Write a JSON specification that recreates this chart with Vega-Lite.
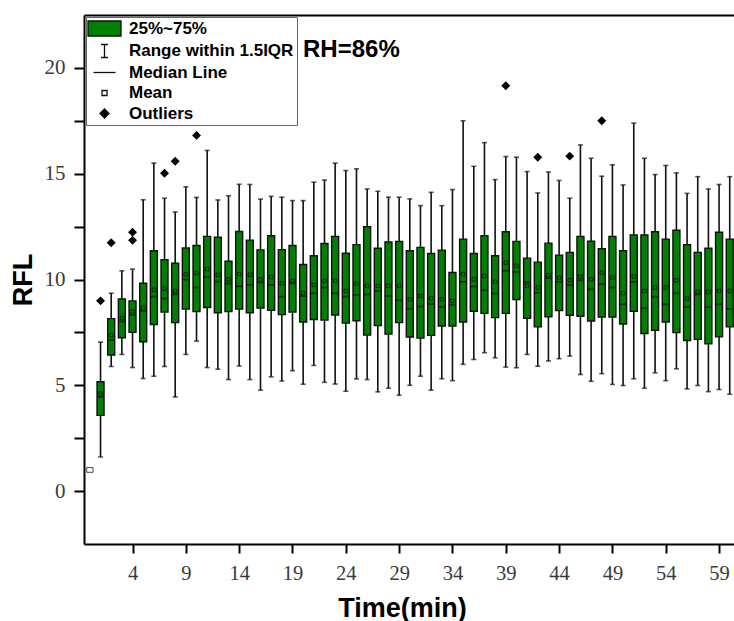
{
  "$schema": "https://vega.github.io/schema/vega-lite/v6.json",
  "width": 650,
  "height": 529,
  "autosize": {"type": "none"},
  "padding": {"left": 84, "top": 15, "right": 0, "bottom": 77},
  "background": "white",
  "config": {"view": {"stroke": null}, "font": "Liberation Sans"},
  "title": {"text": "RH=86%", "anchor": "start", "frame": "group", "orient": "top", "offset": 0, "dx": 219, "dy": 66, "baseline": "alphabetic", "fontSize": 24, "fontWeight": "bold", "font": "Liberation Sans", "color": "black"},
  "datasets": {
    "boxes": [
      {"t": 1, "lo": 1.61, "q1": 3.58, "med": 4.45, "mean": 4.61, "q3": 5.17, "hi": 7.04},
      {"t": 2, "lo": 5.89, "q1": 6.43, "med": 7.14, "mean": 7.36, "q3": 8.15, "hi": 9.35},
      {"t": 3, "lo": 6.46, "q1": 7.25, "med": 8.02, "mean": 8.18, "q3": 9.08, "hi": 10.41},
      {"t": 4, "lo": 5.84, "q1": 7.5, "med": 8.32, "mean": 8.48, "q3": 8.99, "hi": 10.49},
      {"t": 5, "lo": 5.32, "q1": 7.06, "med": 8.51, "mean": 8.67, "q3": 9.82, "hi": 13.77},
      {"t": 6, "lo": 5.43, "q1": 7.87, "med": 9.19, "mean": 9.51, "q3": 11.36, "hi": 15.5},
      {"t": 7, "lo": 5.89, "q1": 8.46, "med": 9.1, "mean": 9.57, "q3": 10.93, "hi": 13.84},
      {"t": 8, "lo": 4.45, "q1": 7.96, "med": 9.3, "mean": 9.46, "q3": 10.77, "hi": 13.19},
      {"t": 9, "lo": 6.46, "q1": 8.6, "med": 10.0, "mean": 10.24, "q3": 11.49, "hi": 14.38},
      {"t": 10, "lo": 7.09, "q1": 8.48, "med": 9.62, "mean": 10.3, "q3": 11.61, "hi": 13.88},
      {"t": 11, "lo": 5.84, "q1": 8.68, "med": 10.12, "mean": 10.49, "q3": 12.04, "hi": 16.1},
      {"t": 12, "lo": 5.76, "q1": 8.43, "med": 9.9, "mean": 10.22, "q3": 12.0, "hi": 13.76},
      {"t": 13, "lo": 5.27, "q1": 8.48, "med": 9.81, "mean": 10.0, "q3": 10.86, "hi": 13.96},
      {"t": 14, "lo": 5.91, "q1": 8.6, "med": 9.68, "mean": 10.26, "q3": 12.27, "hi": 14.5},
      {"t": 15, "lo": 5.27, "q1": 8.43, "med": 9.75, "mean": 10.22, "q3": 11.86, "hi": 14.49},
      {"t": 16, "lo": 4.77, "q1": 8.65, "med": 9.86, "mean": 10.0, "q3": 11.4, "hi": 13.8},
      {"t": 17, "lo": 5.4, "q1": 8.54, "med": 9.75, "mean": 10.12, "q3": 12.07, "hi": 13.93},
      {"t": 18, "lo": 5.2, "q1": 8.34, "med": 9.19, "mean": 9.82, "q3": 11.41, "hi": 13.89},
      {"t": 19, "lo": 5.69, "q1": 8.46, "med": 9.82, "mean": 9.93, "q3": 11.61, "hi": 13.73},
      {"t": 20, "lo": 5.05, "q1": 7.99, "med": 9.22, "mean": 9.35, "q3": 10.71, "hi": 13.73},
      {"t": 21, "lo": 5.94, "q1": 8.11, "med": 9.35, "mean": 9.74, "q3": 11.12, "hi": 14.6},
      {"t": 22, "lo": 5.14, "q1": 8.08, "med": 9.62, "mean": 9.93, "q3": 11.7, "hi": 14.7},
      {"t": 23, "lo": 5.06, "q1": 8.32, "med": 9.35, "mean": 9.93, "q3": 12.04, "hi": 15.5},
      {"t": 24, "lo": 4.72, "q1": 7.94, "med": 9.19, "mean": 9.46, "q3": 11.24, "hi": 15.15},
      {"t": 25, "lo": 5.3, "q1": 8.05, "med": 9.27, "mean": 9.81, "q3": 11.65, "hi": 15.23},
      {"t": 26, "lo": 5.27, "q1": 7.37, "med": 9.3, "mean": 9.7, "q3": 12.49, "hi": 14.28},
      {"t": 27, "lo": 4.69, "q1": 7.82, "med": 9.46, "mean": 9.7, "q3": 11.48, "hi": 14.17},
      {"t": 28, "lo": 4.86, "q1": 7.42, "med": 9.22, "mean": 9.7, "q3": 11.77, "hi": 13.89},
      {"t": 29, "lo": 4.53, "q1": 7.96, "med": 9.02, "mean": 9.7, "q3": 11.8, "hi": 13.89},
      {"t": 30, "lo": 5.0, "q1": 7.28, "med": 8.62, "mean": 9.06, "q3": 11.36, "hi": 13.81},
      {"t": 31, "lo": 5.43, "q1": 7.23, "med": 8.72, "mean": 9.22, "q3": 11.52, "hi": 13.49},
      {"t": 32, "lo": 4.77, "q1": 7.36, "med": 8.84, "mean": 9.11, "q3": 11.23, "hi": 14.12},
      {"t": 33, "lo": 5.31, "q1": 7.8, "med": 8.7, "mean": 9.06, "q3": 11.39, "hi": 13.49},
      {"t": 34, "lo": 5.22, "q1": 7.8, "med": 8.8, "mean": 8.99, "q3": 10.33, "hi": 14.25},
      {"t": 35, "lo": 5.99, "q1": 7.99, "med": 9.89, "mean": 10.25, "q3": 11.91, "hi": 17.5},
      {"t": 36, "lo": 6.22, "q1": 8.5, "med": 9.67, "mean": 10.01, "q3": 11.23, "hi": 15.35},
      {"t": 37, "lo": 6.54, "q1": 8.4, "med": 9.49, "mean": 10.17, "q3": 12.07, "hi": 16.47},
      {"t": 38, "lo": 6.3, "q1": 8.2, "med": 9.34, "mean": 9.89, "q3": 11.12, "hi": 14.72},
      {"t": 39, "lo": 5.86, "q1": 8.4, "med": 10.41, "mean": 10.8, "q3": 12.26, "hi": 15.81},
      {"t": 40, "lo": 5.83, "q1": 9.05, "med": 10.36, "mean": 10.65, "q3": 11.8, "hi": 15.78},
      {"t": 41, "lo": 6.46, "q1": 8.17, "med": 9.87, "mean": 9.7, "q3": 11.01, "hi": 15.1},
      {"t": 42, "lo": 5.9, "q1": 7.76, "med": 9.38, "mean": 9.62, "q3": 10.82, "hi": 14.09},
      {"t": 43, "lo": 6.15, "q1": 8.24, "med": 10.06, "mean": 10.2, "q3": 11.72, "hi": 15.08},
      {"t": 44, "lo": 6.26, "q1": 8.53, "med": 9.89, "mean": 10.09, "q3": 11.15, "hi": 14.68},
      {"t": 45, "lo": 6.38, "q1": 8.31, "med": 9.74, "mean": 9.96, "q3": 11.28, "hi": 13.84},
      {"t": 46, "lo": 5.51, "q1": 8.26, "med": 9.96, "mean": 10.14, "q3": 12.03, "hi": 16.36},
      {"t": 47, "lo": 5.19, "q1": 8.04, "med": 9.54, "mean": 10.01, "q3": 11.81, "hi": 15.73},
      {"t": 48, "lo": 5.55, "q1": 8.23, "med": 9.78, "mean": 10.33, "q3": 11.45, "hi": 14.88},
      {"t": 49, "lo": 5.04, "q1": 8.23, "med": 9.62, "mean": 10.09, "q3": 12.03, "hi": 15.42},
      {"t": 50, "lo": 4.99, "q1": 7.9, "med": 8.83, "mean": 9.35, "q3": 11.36, "hi": 14.47},
      {"t": 51, "lo": 5.31, "q1": 8.5, "med": 9.89, "mean": 10.14, "q3": 12.1, "hi": 17.39},
      {"t": 52, "lo": 4.86, "q1": 7.45, "med": 8.64, "mean": 9.46, "q3": 12.1, "hi": 15.73},
      {"t": 53, "lo": 5.59, "q1": 7.6, "med": 9.18, "mean": 9.62, "q3": 12.26, "hi": 14.96},
      {"t": 54, "lo": 5.22, "q1": 7.99, "med": 8.83, "mean": 9.62, "q3": 11.91, "hi": 15.39},
      {"t": 55, "lo": 5.78, "q1": 7.49, "med": 9.35, "mean": 9.96, "q3": 12.33, "hi": 15.04},
      {"t": 56, "lo": 4.83, "q1": 7.12, "med": 8.7, "mean": 9.1, "q3": 11.64, "hi": 14.07},
      {"t": 57, "lo": 4.99, "q1": 7.17, "med": 9.3, "mean": 9.41, "q3": 11.28, "hi": 14.86},
      {"t": 58, "lo": 4.7, "q1": 6.96, "med": 8.7, "mean": 9.41, "q3": 11.48, "hi": 14.28},
      {"t": 59, "lo": 4.8, "q1": 7.29, "med": 8.83, "mean": 9.46, "q3": 12.23, "hi": 14.49},
      {"t": 60, "lo": 4.58, "q1": 7.76, "med": 8.61, "mean": 9.46, "q3": 11.91, "hi": 14.86}
    ],
    "outliers": [
      {"t": 1, "v": 8.99},
      {"t": 2, "v": 11.74},
      {"t": 4, "v": 12.23},
      {"t": 4, "v": 11.85},
      {"t": 7, "v": 15.02},
      {"t": 8, "v": 15.59},
      {"t": 10, "v": 16.81},
      {"t": 39, "v": 19.16},
      {"t": 42, "v": 15.78},
      {"t": 45, "v": 15.83},
      {"t": 48, "v": 17.5}
    ],
    "extra": [{"t": 0, "mean": 1.0}],
    "legenditems": [
      {"item": "25%~75%"},
      {"item": "Range within 1.5IQR"},
      {"item": "Median Line"},
      {"item": "Mean"},
      {"item": "Outliers"}
    ]
  },
  "layer": [
    {
      "data": {"name": "boxes"},
      "mark": {"type": "rule", "stroke": "#111111", "strokeWidth": 1.6},
      "encoding": {
        "x": {
          "field": "t", "type": "quantitative",
          "scale": {"domain": [-0.55, 60.4], "nice": false, "zero": false, "padding": 0},
          "axis": {
            "orient": "bottom", "values": [4, 9, 14, 19, 24, 29, 34, 39, 44, 49, 54, 59],
            "grid": false, "domainColor": "black", "domainWidth": 2,
            "tickColor": "black", "tickWidth": 2, "tickSize": 9,
            "labelFont": "Liberation Serif", "labelFontSize": 20.5, "labelColor": "#3a3a3a",
            "labelPadding": 10, "labelFlush": false, "labelOverlap": false,
            "title": "Time(min)", "titleFont": "Liberation Sans", "titleFontSize": 27, "titleFontWeight": "bold",
            "titleColor": "black", "titleX": 318, "titleY": 72, "titleBaseline": "alphabetic", "titleAlign": "center"
          }
        },
        "y": {
          "field": "lo", "type": "quantitative",
          "scale": {"domain": [-2.5, 22.5], "nice": false, "zero": false, "padding": 0},
          "axis": {
            "orient": "left", "values": [0, 2.5, 5, 7.5, 10, 12.5, 15, 17.5, 20],
            "labelExpr": "datum.value % 5 === 0 ? datum.label : ''",
            "grid": false, "domainColor": "black", "domainWidth": 2,
            "tickColor": "black", "tickWidth": 2, "tickSize": 10,
            "labelFont": "Liberation Serif", "labelFontSize": 21, "labelColor": "#3a3a3a",
            "labelPadding": 9, "labelFlush": false, "labelOverlap": false,
            "title": "RFL", "titleFont": "Liberation Sans", "titleFontSize": 27, "titleFontWeight": "bold",
            "titleColor": "black", "titleX": -53, "titleY": 264.5, "titleBaseline": "alphabetic", "titleAlign": "center", "titleAngle": -90
          }
        },
        "y2": {"field": "hi"}
      }
    },
    {
      "data": {"name": "boxes"},
      "mark": {"type": "tick", "orient": "horizontal", "size": 5, "thickness": 1.6, "color": "#111111"},
      "encoding": {
        "x": {"field": "t", "type": "quantitative", "axis": null},
        "y": {"field": "hi", "type": "quantitative", "axis": null}
      }
    },
    {
      "data": {"name": "boxes"},
      "mark": {"type": "tick", "orient": "horizontal", "size": 5, "thickness": 1.6, "color": "#111111"},
      "encoding": {
        "x": {"field": "t", "type": "quantitative", "axis": null},
        "y": {"field": "lo", "type": "quantitative", "axis": null}
      }
    },
    {
      "data": {"name": "boxes"},
      "mark": {"type": "bar", "width": 7, "fill": "#008000", "stroke": "#111111", "strokeWidth": 1.4},
      "encoding": {
        "x": {"field": "t", "type": "quantitative", "axis": null},
        "y": {"field": "q1", "type": "quantitative", "axis": null},
        "y2": {"field": "q3"}
      }
    },
    {
      "data": {"name": "boxes"},
      "mark": {"type": "tick", "orient": "horizontal", "size": 7, "thickness": 1.8, "color": "#111111"},
      "encoding": {
        "x": {
          "field": "t", "type": "quantitative",
          "axis": {"orient": "top", "domain": true, "domainColor": "black", "domainWidth": 2, "ticks": false, "labels": false, "grid": false, "title": null}
        },
        "y": {"field": "med", "type": "quantitative", "axis": null}
      }
    },
    {
      "data": {"name": "boxes"},
      "mark": {"type": "point", "shape": "square", "size": 12, "filled": false, "stroke": "#111111", "strokeWidth": 0.8, "opacity": 1},
      "encoding": {
        "x": {"field": "t", "type": "quantitative", "axis": null},
        "y": {"field": "mean", "type": "quantitative", "axis": null}
      }
    },
    {
      "data": {"name": "outliers"},
      "mark": {"type": "point", "shape": "diamond", "size": 80, "filled": true, "color": "black", "opacity": 1},
      "encoding": {
        "x": {"field": "t", "type": "quantitative", "axis": null},
        "y": {"field": "v", "type": "quantitative", "axis": null}
      }
    },
    {
      "data": {"name": "extra"},
      "mark": {"type": "point", "shape": "M-1,-0.75H1V0.75H-1Z", "size": 40, "filled": false, "fill": "white", "stroke": "#444444", "strokeWidth": 1, "opacity": 1},
      "encoding": {
        "x": {"field": "t", "type": "quantitative", "axis": null},
        "y": {"field": "mean", "type": "quantitative", "axis": null}
      }
    },
    {
      "data": {"name": "legenditems"},
      "mark": {"type": "point", "filled": false, "opacity": 0},
      "encoding": {
        "shape": {
          "field": "item", "type": "nominal",
          "scale": {
            "domain": ["25%~75%", "Range within 1.5IQR", "Median Line", "Mean", "Outliers"],
            "range": [
              "M-3.3,-1.5H3.3V1.5H-3.3Z",
              "M-0.7,-1.3H0.7M0,-1.3V1.3M-0.7,1.3H0.7",
              "M-2.2,0H2.2",
              "M-0.5,-0.5H0.5V0.5H-0.5Z",
              "M-0.9,0L0,-0.9L0.9,0L0,0.9Z"
            ]
          },
          "legend": {
            "title": null, "orient": "top-left", "offset": 2, "padding": 3,
            "strokeColor": "#666666", "fillColor": "white",
            "symbolSize": 100, "symbolStrokeWidth": 1.3, "symbolOpacity": 1,
            "labelFont": "Liberation Sans", "labelFontSize": 17, "labelFontWeight": "bold", "labelColor": "black",
            "labelOffset": 16, "rowPadding": 2.5, "symbolOffset": 7, "labelLimit": 300
          }
        },
        "fill": {
          "field": "item", "type": "nominal",
          "scale": {
            "domain": ["25%~75%", "Range within 1.5IQR", "Median Line", "Mean", "Outliers"],
            "range": ["#008000", "transparent", "transparent", "white", "black"]
          },
          "legend": {
            "title": null, "orient": "top-left", "offset": 2, "padding": 3,
            "strokeColor": "#666666", "fillColor": "white",
            "symbolSize": 100, "symbolStrokeWidth": 1.3, "symbolOpacity": 1,
            "labelFont": "Liberation Sans", "labelFontSize": 17, "labelFontWeight": "bold", "labelColor": "black",
            "labelOffset": 16, "rowPadding": 2.5, "symbolOffset": 7, "labelLimit": 300
          }
        },
        "stroke": {
          "field": "item", "type": "nominal",
          "scale": {
            "domain": ["25%~75%", "Range within 1.5IQR", "Median Line", "Mean", "Outliers"],
            "range": ["#111111", "#111111", "#111111", "#111111", "#111111"]
          },
          "legend": {
            "title": null, "orient": "top-left", "offset": 2, "padding": 3,
            "strokeColor": "#666666", "fillColor": "white",
            "symbolSize": 100, "symbolStrokeWidth": 1.3, "symbolOpacity": 1,
            "labelFont": "Liberation Sans", "labelFontSize": 17, "labelFontWeight": "bold", "labelColor": "black",
            "labelOffset": 16, "rowPadding": 2.5, "symbolOffset": 7, "labelLimit": 300
          }
        }
      }
    }
  ],
  "resolve": {"axis": {"x": "independent", "y": "independent"}}
}
